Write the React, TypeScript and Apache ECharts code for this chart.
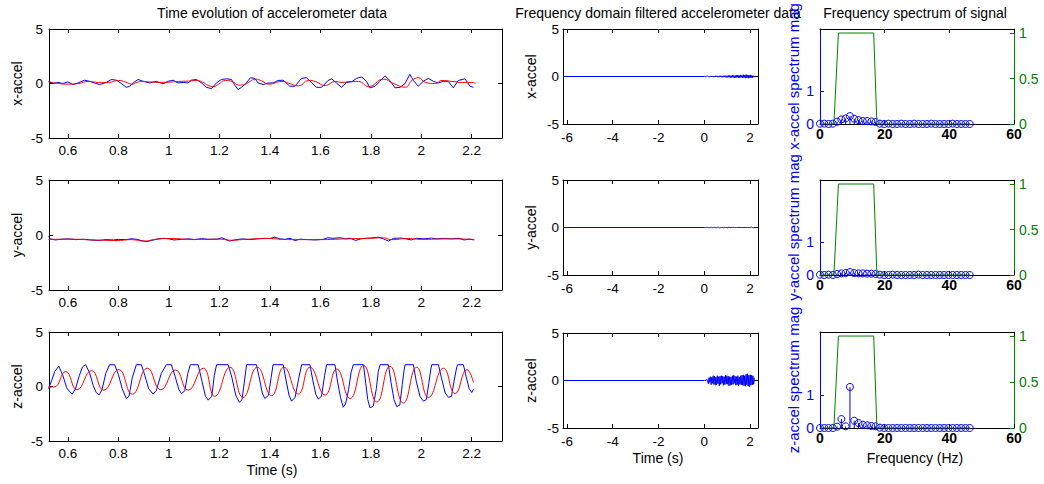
import React, { useEffect, useRef } from "react";
import * as echarts from "echarts";

const FONT = '"Liberation Sans", Arial, Helvetica, sans-serif';
const BLUE = "#0000ff";
const RED = "#ff0000";
const GREEN = "#008000";
const BLACK = "#000000";

// ---- tick labels ----
const timeTicks = [0.6, 0.8, 1, 1.2, 1.4, 1.6, 1.8, 2, 2.2];
const midTicks = [-6, -4, -2, 0, 2];
const accTicks = [-5, 0, 5];
const freqTicks = [0, 20, 40, 60];
const magTicks = [0, 1];
const filterTicks = [0, 0.5, 1];

// ---- text ----
const titles = ["Time evolution of accelerometer data", "Frequency domain filtered accelerometer data", "Frequency spectrum of signal"];
const accNames = ["x-accel", "y-accel", "z-accel"];
const specNames = ["x-accel spectrum mag", "y-accel spectrum mag", "z-accel spectrum mag"];

// ---- time evolution: raw (blue) and filtered (red) [t, value] ----
const xRaw = [[0.523,0.2],[0.54,0],[0.56,0.1],[0.58,0],[0.6,0.15],[0.62,-0.1],[0.64,0.05],[0.666,0.3],[0.686,0.2],[0.706,0.05],[0.726,-0.1],[0.752,0.1],[0.772,0.37],[0.792,0.3],[0.812,0],[0.831,-0.35],[0.845,-0.25],[0.858,0.05],[0.878,0.37],[0.898,0.2],[0.924,0.05],[0.95,0.2],[0.977,-0.03],[0.997,0.2],[1.017,0.3],[1.036,0.05],[1.056,0.1],[1.076,0.05],[1.089,0.3],[1.109,0.37],[1.129,0.05],[1.149,-0.35],[1.169,-0.47],[1.188,0.05],[1.208,0.37],[1.228,0.43],[1.248,0.37],[1.261,-0.15],[1.274,-0.56],[1.288,-0.35],[1.307,0.05],[1.323,0.53],[1.34,0.47],[1.354,0.05],[1.374,-0.1],[1.393,0.05],[1.413,0.05],[1.433,0.28],[1.453,0.3],[1.479,-0.25],[1.499,-0.25],[1.526,0.47],[1.545,0.53],[1.565,0.1],[1.585,-0.35],[1.605,-0.35],[1.631,0.28],[1.645,0.43],[1.664,0.05],[1.684,-0.35],[1.704,0.1],[1.724,0.15],[1.744,0.47],[1.764,0.6],[1.783,0.2],[1.797,-0.4],[1.817,-0.25],[1.836,0.2],[1.856,0.7],[1.876,0.28],[1.896,-0.4],[1.916,-0.35],[1.936,0],[1.955,0.84],[1.969,0.28],[1.988,-0.25],[2.008,0.2],[2.028,0.47],[2.048,0.2],[2.068,0.05],[2.088,0.2],[2.107,0.2],[2.127,-0.4],[2.147,0.28],[2.174,0.43],[2.193,-0.25],[2.207,-0.35]];
const xFilt = [[0.523,0.15],[0.563,0],[0.602,-0.06],[0.642,0],[0.682,0.19],[0.721,0.1],[0.761,0.1],[0.801,0.28],[0.827,0.15],[0.853,-0.06],[0.873,0.1],[0.893,0.19],[0.92,0.15],[0.959,0.1],[0.999,0.12],[1.039,0.19],[1.078,0.22],[1.111,0.28],[1.131,0.15],[1.158,-0.19],[1.177,-0.28],[1.197,-0.06],[1.224,0.28],[1.25,0.19],[1.277,-0.15],[1.303,-0.06],[1.322,0.19],[1.343,0.4],[1.369,0.22],[1.396,-0.06],[1.448,0.19],[1.474,0.03],[1.514,-0.22],[1.553,0.28],[1.58,0.19],[1.62,-0.19],[1.659,0.19],[1.686,0.1],[1.725,0.19],[1.752,0.19],[1.791,-0.28],[1.851,0.4],[1.89,0],[1.937,-0.34],[1.963,0.28],[1.99,0.53],[2.016,0.1],[2.056,0],[2.082,0.28],[2.122,0.19],[2.162,0.1],[2.201,0.1],[2.215,0]];
const yRaw = [[0.523,-0.1],[0.53,-0.35],[0.55,-0.45],[0.57,-0.4],[0.6,-0.35],[0.63,-0.42],[0.66,-0.38],[0.69,-0.45],[0.72,-0.5],[0.75,-0.42],[0.78,-0.45],[0.8,-0.4],[0.83,-0.42],[0.85,-0.35],[0.87,-0.38],[0.89,-0.5],[0.91,-0.6],[0.93,-0.5],[0.96,-0.35],[0.98,-0.3],[1,-0.35],[1.02,-0.45],[1.05,-0.4],[1.08,-0.35],[1.1,-0.42],[1.13,-0.33],[1.16,-0.4],[1.19,-0.38],[1.21,-0.25],[1.23,-0.45],[1.24,-0.55],[1.26,-0.45],[1.29,-0.35],[1.32,-0.42],[1.35,-0.35],[1.38,-0.3],[1.4,-0.32],[1.42,-0.2],[1.44,-0.35],[1.46,-0.4],[1.48,-0.3],[1.5,-0.5],[1.52,-0.38],[1.55,-0.42],[1.58,-0.45],[1.61,-0.4],[1.63,-0.25],[1.65,-0.3],[1.68,-0.25],[1.7,-0.35],[1.72,-0.3],[1.74,-0.5],[1.76,-0.35],[1.78,-0.3],[1.8,-0.28],[1.83,-0.2],[1.85,-0.35],[1.87,-0.55],[1.89,-0.3],[1.92,-0.28],[1.94,-0.35],[1.96,-0.45],[1.98,-0.3],[2.01,-0.35],[2.04,-0.28],[2.06,-0.35],[2.09,-0.32],[2.12,-0.35],[2.15,-0.3],[2.17,-0.45],[2.19,-0.38],[2.21,-0.45]];
const yFilt = [[0.523,-0.4],[0.6,-0.38],[0.7,-0.45],[0.8,-0.5],[0.85,-0.42],[0.9,-0.55],[0.95,-0.38],[1,-0.32],[1.1,-0.4],[1.2,-0.38],[1.25,-0.48],[1.3,-0.4],[1.4,-0.32],[1.45,-0.4],[1.5,-0.42],[1.6,-0.42],[1.7,-0.35],[1.8,-0.3],[1.85,-0.25],[1.88,-0.42],[1.95,-0.32],[2,-0.4],[2.1,-0.35],[2.21,-0.4]];
const zRaw = [[0.523,-0.2],[0.535,0.5],[0.548,1.4],[0.564,1.86],[0.58,1.0],[0.595,-0.1],[0.607,-0.5],[0.617,-0.7],[0.63,-0.2],[0.645,1.0],[0.658,1.8],[0.67,2.0],[0.685,1.3],[0.7,0.1],[0.712,-0.55],[0.723,-0.78],[0.735,-0.3],[0.75,1.2],[0.765,2.0],[0.785,2.0],[0.8,1.1],[0.815,-0.2],[0.831,-1.1],[0.842,-0.9],[0.855,0.8],[0.871,2.0],[0.891,2.0],[0.905,1.0],[0.92,-0.2],[0.937,-0.7],[0.95,-0.4],[0.97,1.2],[0.99,2.0],[1.01,2.0],[1.025,0.9],[1.04,-0.3],[1.05,-0.65],[1.063,-0.4],[1.075,1.2],[1.085,2.0],[1.116,2.0],[1.13,0.6],[1.145,-0.9],[1.156,-1.25],[1.17,-0.9],[1.18,1.0],[1.189,2.0],[1.235,2.0],[1.25,0.8],[1.265,-0.8],[1.279,-1.45],[1.29,-1.2],[1.3,0.6],[1.308,2.0],[1.347,2.0],[1.36,0.6],[1.37,-0.6],[1.38,-1.1],[1.395,-0.8],[1.405,0.8],[1.413,2.0],[1.453,2.0],[1.465,0.5],[1.476,-0.8],[1.486,-1.35],[1.5,-1.0],[1.515,0.8],[1.526,2.0],[1.559,2.0],[1.57,0.6],[1.582,-0.7],[1.592,-1.15],[1.605,-0.9],[1.617,1.0],[1.625,2.0],[1.658,2.0],[1.668,0.5],[1.68,-1.0],[1.691,-1.9],[1.7,-1.6],[1.712,-0.3],[1.722,1.3],[1.731,2.0],[1.771,2.0],[1.78,0.3],[1.788,-1.2],[1.797,-1.95],[1.81,-1.8],[1.822,-0.2],[1.83,1.4],[1.837,2.0],[1.87,2.0],[1.88,0.4],[1.892,-1.2],[1.903,-1.85],[1.915,-1.7],[1.925,0.2],[1.932,1.5],[1.936,2.0],[1.969,2.0],[1.98,0.5],[1.995,-0.9],[2.009,-1.35],[2.02,-1.2],[2.03,0.3],[2.038,1.6],[2.042,2.0],[2.068,2.0],[2.08,0.8],[2.095,-0.6],[2.108,-1.0],[2.12,-0.9],[2.13,0.5],[2.14,1.7],[2.144,2.0],[2.167,2.0],[2.178,0.9],[2.19,-0.2],[2.2,-0.55],[2.207,-0.25]];
const zFilt = [[0.523,-0.05],[0.545,-0.05],[0.591,1.37],[0.636,-0.3],[0.693,1.46],[0.742,-0.34],[0.801,1.55],[0.855,-0.7],[0.915,1.68],[0.968,-0.3],[1.026,1.52],[1.076,-0.34],[1.136,1.68],[1.182,-0.9],[1.242,1.77],[1.294,-1.0],[1.35,1.77],[1.407,-0.84],[1.456,1.77],[1.513,-0.7],[1.559,1.77],[1.619,-0.78],[1.665,1.6],[1.718,-1.1],[1.771,1.93],[1.824,-1.43],[1.876,1.86],[1.929,-1.52],[1.982,1.77],[2.029,-1.0],[2.088,1.68],[2.134,-0.65],[2.181,1.55],[2.207,0.37]];

// ---- frequency-domain filtered signal ----
const midStart = -6.17;
const midStep = 0.03;
const midX = [0,0.02,-0.02,0.03,-0.03,0.04,-0.02,0.05,-0.04,0.03,-0.05,0.06,-0.03,0.05,-0.06,0.04,-0.05,0.07,-0.04,0.06,-0.07,0.05,-0.06,0.08,-0.05,0.07,-0.08,0.06,-0.07,0.09,-0.06,0.08,-0.1,0.07,-0.09,0.12,-0.08,0.1,-0.12,0.09,-0.11,0.14,-0.09,0.12,-0.15,0.1,-0.12,0.13,-0.1,0.15,-0.12,0.11,-0.14,0.16,-0.1,0.13,-0.15,0.18,-0.12,0.15,-0.17,0.2,-0.14,0.16,-0.18,0.15,-0.13,0.17,-0.15,0.12,-0.14,0.1,-0.08,0.05];
const midY = [0,0.01,-0.01,0.02,-0.01,0.02,-0.02,0.03,-0.02,0.02,-0.03,0.03,-0.02,0.04,-0.03,0.02,-0.04,0.03,-0.02,0.04,-0.03,0.03,-0.04,0.02,-0.03,0.05,-0.03,0.04,-0.04,0.03,-0.05,0.04,-0.03,0.05,-0.04,0.03,-0.05,0.04,-0.03,0.05,-0.04,0.06,-0.03,0.04,-0.05,0.03,-0.04,0.05,-0.03,0.04,-0.05,0.06,-0.04,0.03,-0.05,0.04,-0.06,0.05,-0.04,0.06,-0.05,0.04,-0.03,0.05,-0.04,0.03,-0.05,0.04,-0.03,0.04,-0.03,0.02,-0.02,0.01];
const midZ = [0,0.05,-0.04,0.08,0.12,-0.1,-0.35,0.3,-0.2,0.4,-0.45,0.35,-0.3,0.5,-0.4,0.45,-0.5,0.35,-0.45,0.5,-0.35,0.4,-0.55,0.45,-0.4,0.5,-0.3,0.45,-0.5,0.4,-0.45,0.55,-0.35,0.5,-0.4,0.45,-0.55,0.4,-0.5,0.35,-0.45,0.5,-0.4,0.55,-0.3,0.45,-0.5,0.4,-0.45,0.5,-0.55,0.35,-0.4,0.5,-0.45,0.55,-0.5,0.6,-0.55,0.5,-0.6,0.65,-0.45,0.7,-0.6,0.55,-0.65,0.6,-0.5,0.55,-0.45,0.5,-0.4,0.3];

// ---- spectrum ----
const specFreq = [0,1.32,2.65,3.97,5.29,6.62,7.94,9.26,10.58,11.91,13.23,14.55,15.88,17.2,18.52,19.85,21.17,22.49,23.82,25.14,26.46,27.79,29.11,30.43,31.76,33.08,34.4,35.73,37.05,38.37,39.7,41.02,42.34,43.67,44.99,46.31];
const xMag = [0.01,0.01,0,0.01,0.07,0.14,0.17,0.24,0.16,0.12,0.09,0.09,0.08,0.06,0.01,0,0.01,0,0,0.01,0,0,0.01,0,0,0,0.01,0,0,0,0,0.01,0,0,0,0];
const yMag = [0.01,0,0.01,0,0.03,0.05,0.06,0.09,0.06,0.05,0.05,0.04,0.04,0.03,0.01,0,0,0.01,0,0,0,0,0,0.01,0,0,0,0,0,0,0,0,0,0,0,0];
const zMag = [0,0,0,0,0.04,0.27,0.05,1.24,0.22,0.15,0.1,0.08,0.06,0.05,0.01,0,0,0,0,0,0,0,0,0,0,0,0,0,0,0,0,0,0,0,0,0];
const filterFreq = [0, 4.3, 5.7, 16.6, 17.6, 46.3];
const filterGain = [0, 0, 1, 1, 0, 0];

// ---- layout ----
const leftCol = { left: 49, width: 453, tops: [29, 180, 332], heights: [109, 110, 109] };
const midCol = { left: 563, width: 195, tops: [29, 180, 333], heights: [95, 95, 95] };
const rightCol = { left: 820, width: 194, tops: [29, 180, 332], heights: [95, 95, 96] };

function buildOption() {
  const grid: any[] = [];
  const xAxis: any[] = [];
  const yAxis: any[] = [];
  const series: any[] = [];

  const mkAxis = (gi: number, min: number, max: number, ticks: number[], position: string, color: string, label: any) => ({
    type: "value",
    gridIndex: gi,
    position,
    min,
    max,
    axisLine: { show: true, onZero: false, lineStyle: { color, width: 1 } },
    axisTick: { show: true, inside: true, length: 4, customValues: ticks, lineStyle: { color, width: 1 } },
    axisLabel: label
      ? { show: true, customValues: ticks, color: label.color, fontSize: label.size, fontFamily: FONT, fontWeight: label.weight || "normal", margin: label.margin }
      : { show: false },
    splitLine: { show: false },
    splitArea: { show: false },
  });

  const panel = (rect: any, xr: any, yl: any, yr: any) => {
    const gi = grid.length;
    grid.push({ left: rect.left, top: rect.top, width: rect.width, height: rect.height, containLabel: false });
    const xi = xAxis.length;
    xAxis.push(mkAxis(gi, xr.min, xr.max, xr.ticks, "bottom", xr.color, xr.label));
    xAxis.push(mkAxis(gi, xr.min, xr.max, xr.ticks, "top", BLACK, null));
    const yi = yAxis.length;
    yAxis.push(mkAxis(gi, yl.min, yl.max, yl.ticks, "left", yl.color, yl.label));
    yAxis.push(mkAxis(gi, yr.min, yr.max, yr.ticks, "right", yr.color, yr.label));
    return { xi, yi, yri: yi + 1 };
  };

  const line = (data: any, xi: number, yi: number, color: string, smooth: any) => ({
    type: "line",
    data,
    xAxisIndex: xi,
    yAxisIndex: yi,
    showSymbol: false,
    symbol: "none",
    smooth,
    silent: true,
    lineStyle: { color, width: 1 },
    itemStyle: { color },
  });

  const tickLbl = { color: BLACK, size: 13.5, margin: 6 };

  // left column
  const raws = [xRaw, yRaw, zRaw];
  const filts = [xFilt, yFilt, zFilt];
  for (let r = 0; r < 3; r++) {
    const p = panel(
      { left: leftCol.left, top: leftCol.tops[r], width: leftCol.width, height: leftCol.heights[r] },
      { min: 0.525, max: 2.32, ticks: timeTicks, color: BLACK, label: { ...tickLbl, margin: 5 } },
      { min: -5, max: 5, ticks: accTicks, color: BLACK, label: tickLbl },
      { min: -5, max: 5, ticks: accTicks, color: BLACK, label: null }
    );
    series.push(line(raws[r], p.xi, p.yi, BLUE, false));
    series.push(line(filts[r], p.xi, p.yi, RED, 0.5));
  }

  // middle column
  const mids = [midX, midY, midZ];
  for (let r = 0; r < 3; r++) {
    const p = panel(
      { left: midCol.left, top: midCol.tops[r], width: midCol.width, height: midCol.heights[r] },
      { min: -6.17, max: 2.35, ticks: midTicks, color: BLACK, label: { ...tickLbl, margin: 6 } },
      { min: -5, max: 5, ticks: accTicks, color: BLACK, label: { ...tickLbl, margin: 4 } },
      { min: -5, max: 5, ticks: accTicks, color: BLACK, label: null }
    );
    const data: any[] = [[midStart, 0]];
    mids[r].forEach((v, i) => data.push([+(i * midStep).toFixed(3), v]));
    series.push(line(data, p.xi, p.yi, BLUE, false));
  }

  // right column
  const mags = [xMag, yMag, zMag];
  for (let r = 0; r < 3; r++) {
    const p = panel(
      { left: rightCol.left, top: rightCol.tops[r], width: rightCol.width, height: rightCol.heights[r] },
      { min: 0, max: 60, ticks: freqTicks, color: BLACK, label: { color: BLACK, size: 14, weight: "bold", margin: 3 } },
      { min: 0, max: 2.9, ticks: magTicks, color: BLUE, label: { color: BLUE, size: 14, margin: 6 } },
      { min: 0, max: 1.044, ticks: filterTicks, color: GREEN, label: { color: GREEN, size: 14, margin: 5 } }
    );
    series.push(line(filterFreq.map((f, i) => [f, filterGain[i]]), p.xi, p.yri, GREEN, false));
    series.push({
      type: "custom",
      coordinateSystem: "cartesian2d",
      xAxisIndex: p.xi,
      yAxisIndex: p.yi,
      silent: true,
      encode: { x: 0, y: 1 },
      data: specFreq.map((f, i) => [f, mags[r][i]]),
      renderItem: (params: any, api: any) => {
        const x = api.value(0);
        const y = api.value(1);
        const pt = api.coord([x, y]);
        const p0 = api.coord([x, 0]);
        return {
          type: "group",
          children: [
            { type: "line", shape: { x1: p0[0], y1: p0[1], x2: pt[0], y2: pt[1] }, style: { stroke: BLUE, lineWidth: 1 } },
            { type: "circle", shape: { cx: pt[0], cy: pt[1], r: 3.5 }, style: { fill: "none", stroke: BLUE, lineWidth: 1 } },
          ],
        };
      },
    });
  }

  const txt = (text: string, x: number, y: number, size: number, color: string, rot = 0, weight = "normal") => ({
    type: "text",
    x,
    y,
    rotation: rot,
    silent: true,
    style: {
      text,
      fill: color,
      fontSize: size,
      fontFamily: FONT,
      fontWeight: weight,
      align: "center",
      verticalAlign: "middle",
      textAlign: "center",
      textVerticalAlign: "middle",
    },
  });

  const elements: any[] = [
    txt(titles[0], 272, 13, 14, BLACK),
    txt(titles[1], 658, 13, 14, BLACK),
    txt(titles[2], 915, 13, 14, BLACK),
    txt("Time (s)", 272, 470, 14, BLACK),
    txt("Time (s)", 658, 458, 14, BLACK),
    txt("Frequency (Hz)", 915, 458, 14, BLACK),
  ];
  for (let r = 0; r < 3; r++) {
    elements.push(txt(accNames[r], 17, leftCol.tops[r] + leftCol.heights[r] / 2, 14, BLACK, Math.PI / 2));
    elements.push(txt(accNames[r], 531, midCol.tops[r] + midCol.heights[r] / 2, 14, BLACK, Math.PI / 2));
    elements.push(txt(specNames[r], 793, rightCol.tops[r] + rightCol.heights[r] / 2, 15, BLUE, Math.PI / 2));
  }

  return {
    animation: false,
    backgroundColor: "#ffffff",
    textStyle: { fontFamily: FONT },
    grid,
    xAxis,
    yAxis,
    series,
    graphic: { elements },
  };
}

export default function App() {
  const ref = useRef<HTMLDivElement>(null);
  useEffect(() => {
    const chart = echarts.init(ref.current as HTMLDivElement, null, { renderer: "svg" });
    chart.setOption(buildOption() as any);
    return () => chart.dispose();
  }, []);
  return <div ref={ref} style={{ position: "absolute", left: 0, top: 0, width: 1044, height: 484 }} />;
}
